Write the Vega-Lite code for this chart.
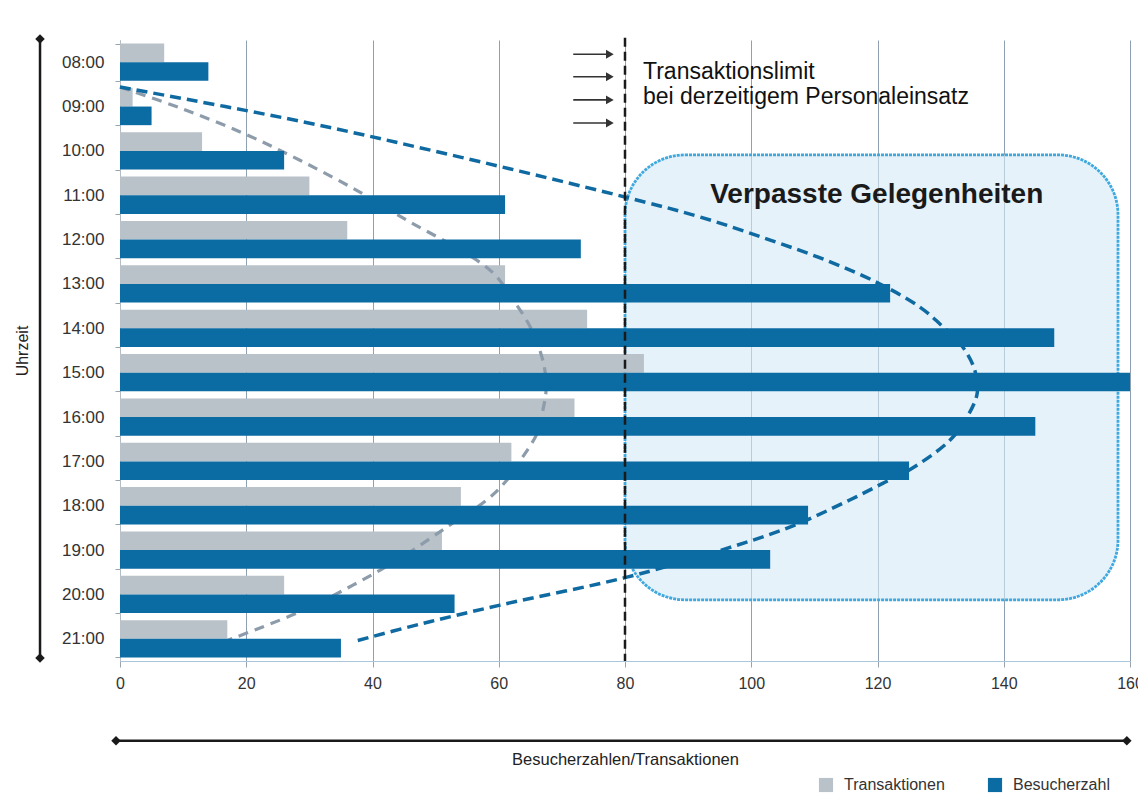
{
  "$schema": "https://vega.github.io/schema/vega-lite/v6.json",
  "width": 1010,
  "height": 621,
  "autosize": {"type": "none"},
  "padding": {"left": 120, "top": 40, "right": 8, "bottom": 140},
  "background": "white",
  "config": {
    "view": {"stroke": null},
    "font": "Liberation Sans",
    "axis": {"labelFont": "Liberation Sans", "titleFont": "Liberation Sans", "labelColor": "#333333", "titleColor": "#222222", "titleFontWeight": "normal"},
    "legend": {"labelFont": "Liberation Sans"}
  },
  "datasets": {
    "bars": [
      {"hour": "08:00", "series": "Transaktionen", "value": 7},
      {"hour": "08:00", "series": "Besucherzahl", "value": 14},
      {"hour": "09:00", "series": "Transaktionen", "value": 2},
      {"hour": "09:00", "series": "Besucherzahl", "value": 5},
      {"hour": "10:00", "series": "Transaktionen", "value": 13},
      {"hour": "10:00", "series": "Besucherzahl", "value": 26},
      {"hour": "11:00", "series": "Transaktionen", "value": 30},
      {"hour": "11:00", "series": "Besucherzahl", "value": 61},
      {"hour": "12:00", "series": "Transaktionen", "value": 36},
      {"hour": "12:00", "series": "Besucherzahl", "value": 73},
      {"hour": "13:00", "series": "Transaktionen", "value": 61},
      {"hour": "13:00", "series": "Besucherzahl", "value": 122},
      {"hour": "14:00", "series": "Transaktionen", "value": 74},
      {"hour": "14:00", "series": "Besucherzahl", "value": 148},
      {"hour": "15:00", "series": "Transaktionen", "value": 83},
      {"hour": "15:00", "series": "Besucherzahl", "value": 160},
      {"hour": "16:00", "series": "Transaktionen", "value": 72},
      {"hour": "16:00", "series": "Besucherzahl", "value": 145},
      {"hour": "17:00", "series": "Transaktionen", "value": 62},
      {"hour": "17:00", "series": "Besucherzahl", "value": 125},
      {"hour": "18:00", "series": "Transaktionen", "value": 54},
      {"hour": "18:00", "series": "Besucherzahl", "value": 109},
      {"hour": "19:00", "series": "Transaktionen", "value": 51},
      {"hour": "19:00", "series": "Besucherzahl", "value": 103},
      {"hour": "20:00", "series": "Transaktionen", "value": 26},
      {"hour": "20:00", "series": "Besucherzahl", "value": 53},
      {"hour": "21:00", "series": "Transaktionen", "value": 17},
      {"hour": "21:00", "series": "Besucherzahl", "value": 35}
    ],
    "greyCurve": [
      {"i": 0, "x": 0, "y": 8.56},
      {"i": 1, "x": 9.5, "y": 9.03},
      {"i": 2, "x": 19.5, "y": 9.6},
      {"i": 3, "x": 28.5, "y": 10.21},
      {"i": 4, "x": 38.0, "y": 10.93},
      {"i": 5, "x": 45.9, "y": 11.6},
      {"i": 6, "x": 53.9, "y": 12.23},
      {"i": 7, "x": 59.1, "y": 12.75},
      {"i": 8, "x": 62.3, "y": 13.36},
      {"i": 9, "x": 65.0, "y": 13.97},
      {"i": 10, "x": 66.5, "y": 14.49},
      {"i": 11, "x": 67.3, "y": 14.94},
      {"i": 12, "x": 67.5, "y": 15.39},
      {"i": 13, "x": 67.0, "y": 15.84},
      {"i": 14, "x": 66.1, "y": 16.36},
      {"i": 15, "x": 63.8, "y": 16.9},
      {"i": 16, "x": 61.3, "y": 17.42},
      {"i": 17, "x": 58.1, "y": 17.87},
      {"i": 18, "x": 51.8, "y": 18.48},
      {"i": 19, "x": 44.4, "y": 19.18},
      {"i": 20, "x": 36.9, "y": 19.79},
      {"i": 21, "x": 28.5, "y": 20.39},
      {"i": 22, "x": 17.1, "y": 21.03}
    ],
    "blueCurve": [
      {"i": 0, "x": 0, "y": 8.56},
      {"i": 1, "x": 28.5, "y": 9.33},
      {"i": 2, "x": 53.9, "y": 10.14},
      {"i": 3, "x": 80.0, "y": 11.04},
      {"i": 4, "x": 91.9, "y": 11.49},
      {"i": 5, "x": 103.0, "y": 12.01},
      {"i": 6, "x": 112.5, "y": 12.5},
      {"i": 7, "x": 120.4, "y": 13.0},
      {"i": 8, "x": 126.7, "y": 13.52},
      {"i": 9, "x": 130.4, "y": 13.97},
      {"i": 10, "x": 133.5, "y": 14.42},
      {"i": 11, "x": 135.4, "y": 14.94},
      {"i": 12, "x": 135.8, "y": 15.46},
      {"i": 13, "x": 134.2, "y": 16.0},
      {"i": 14, "x": 131.5, "y": 16.52},
      {"i": 15, "x": 125.1, "y": 17.19},
      {"i": 16, "x": 120.9, "y": 17.49},
      {"i": 17, "x": 115.6, "y": 17.87},
      {"i": 18, "x": 106.1, "y": 18.48},
      {"i": 19, "x": 93.9, "y": 19.06},
      {"i": 20, "x": 80.3, "y": 19.61},
      {"i": 21, "x": 60.2, "y": 20.24},
      {"i": 22, "x": 47.5, "y": 20.67},
      {"i": 23, "x": 36.8, "y": 21.07}
    ],
    "box": [{"x1": 80, "x2": 158.1, "y1": 10.09, "y2": 20.12}],
    "arrows": [
      {"x1": 71.8, "x2": 77.0, "xh": 77.6, "y": 7.82},
      {"x1": 71.8, "x2": 77.0, "xh": 77.6, "y": 8.33},
      {"x1": 71.8, "x2": 77.0, "xh": 77.6, "y": 8.85},
      {"x1": 71.8, "x2": 77.0, "xh": 77.6, "y": 9.37}
    ],
    "limit": [{"x": 80, "y1": 7.45, "y2": 21.5}],
    "notes": [
      {"x": 82.85, "y": 8.22, "text": "Transaktionslimit"},
      {"x": 82.85, "y": 8.79, "text": "bei derzeitigem Personaleinsatz"}
    ],
    "headline": [{"x": 93.5, "y": 10.99, "text": "Verpasste Gelegenheiten"}],
    "vline": [{"x": -12.67, "y1": 7.48, "y2": 21.43}],
    "hline": [{"x1": -0.63, "x2": 159.5, "y": 23.3}],
    "ends": [
      {"x": -12.67, "y": 7.48},
      {"x": -12.67, "y": 21.43},
      {"x": -0.63, "y": 23.3},
      {"x": 159.5, "y": 23.3}
    ]
  },
  "resolve": {"scale": {"y": "independent"}, "axis": {"y": "independent"}},
  "layer": [
    {
      "data": {"name": "box"},
      "mark": {"type": "rect", "cornerRadius": 60, "fill": "#d3e9f7", "fillOpacity": 0.6, "stroke": "#3ea8df", "strokeWidth": 2.8, "strokeDash": [3, 1]},
      "encoding": {
        "x": {
          "field": "x1", "type": "quantitative",
          "scale": {"domain": [0, 160], "nice": false},
          "axis": {"values": [0, 20, 40, 60, 80, 100, 120, 140, 160], "grid": true, "gridColor": "#8fa1b0", "gridOpacity": 1, "tickSize": 6, "tickColor": "#9aa3ab", "domainColor": "#a9c6da", "labelPadding": 8, "labelFontSize": 16, "labelFlush": false, "title": "Besucherzahlen/Transaktionen", "titleFontSize": 16.5, "titlePadding": 60}
        },
        "x2": {"field": "x2"},
        "y": {"field": "y1", "type": "quantitative", "scale": {"domain": [7.5, 21.5], "reverse": true, "nice": false, "zero": false}, "axis": null},
        "y2": {"field": "y2"}
      }
    },
    {
      "data": {"name": "bars"},
      "transform": [{"filter": "datum.series === 'Transaktionen'"}],
      "mark": {"type": "bar"},
      "encoding": {
        "y": {
          "field": "hour", "type": "ordinal",
          "scale": {"paddingInner": 0.16, "paddingOuter": 0.08},
          "axis": {"title": "Uhrzeit", "tickBand": "extent", "tickSize": 5, "tickColor": "#9aa3ab", "domainColor": "#b4bcc4", "labelPadding": 11, "labelFontSize": 17, "titleFontSize": 16, "titlePadding": 31}
        },
        "yOffset": {"field": "series", "scale": {"domain": ["Transaktionen", "Besucherzahl"]}},
        "x": {"field": "value", "type": "quantitative", "scale": {"domain": [0, 160], "nice": false}},
        "color": {
          "field": "series", "type": "nominal",
          "scale": {"domain": ["Transaktionen", "Besucherzahl"], "range": ["#b9c1c9", "#0b6ba3"]},
          "legend": {"orient": "none", "legendX": 698, "legendY": 737, "direction": "horizontal", "title": null, "symbolType": "square", "symbolSize": 200, "symbolStrokeWidth": 0, "labelFontSize": 16, "labelColor": "#333333", "labelOffset": 10, "columnPadding": 42}
        }
      }
    },
    {
      "data": {"name": "greyCurve"},
      "mark": {"type": "line", "interpolate": "catmull-rom", "color": "#8d9cab", "strokeWidth": 3.2, "strokeDash": [10, 7]},
      "encoding": {
        "x": {"field": "x", "type": "quantitative", "scale": {"domain": [0, 160], "nice": false}},
        "y": {"field": "y", "type": "quantitative", "scale": {"domain": [7.5, 21.5], "reverse": true, "nice": false, "zero": false}, "axis": null},
        "order": {"field": "i"}
      }
    },
    {
      "data": {"name": "blueCurve"},
      "mark": {"type": "line", "interpolate": "catmull-rom", "color": "#0e6aa1", "strokeWidth": 3.5, "strokeDash": [11, 6]},
      "encoding": {
        "x": {"field": "x", "type": "quantitative", "scale": {"domain": [0, 160], "nice": false}},
        "y": {"field": "y", "type": "quantitative", "scale": {"domain": [7.5, 21.5], "reverse": true, "nice": false, "zero": false}, "axis": null},
        "order": {"field": "i"}
      }
    },
    {
      "data": {"name": "bars"},
      "transform": [{"filter": "datum.series === 'Besucherzahl'"}],
      "mark": {"type": "bar"},
      "encoding": {
        "y": {"field": "hour", "type": "ordinal", "scale": {"paddingInner": 0.16, "paddingOuter": 0.08}, "axis": null},
        "yOffset": {"field": "series", "scale": {"domain": ["Transaktionen", "Besucherzahl"]}},
        "x": {"field": "value", "type": "quantitative", "scale": {"domain": [0, 160], "nice": false}},
        "color": {"field": "series", "type": "nominal", "scale": {"domain": ["Transaktionen", "Besucherzahl"], "range": ["#b9c1c9", "#0b6ba3"]}}
      }
    },
    {
      "layer": [
        {
          "data": {"name": "limit"},
          "mark": {"type": "rule", "color": "#1a1a1a", "strokeWidth": 2.5, "strokeDash": [9, 5]},
          "encoding": {
            "x": {"field": "x", "type": "quantitative", "scale": {"domain": [0, 160], "nice": false}},
            "y": {"field": "y1", "type": "quantitative", "scale": {"domain": [7.5, 21.5], "reverse": true, "nice": false, "zero": false}, "axis": null},
            "y2": {"field": "y2"}
          }
        },
        {
          "data": {"name": "arrows"},
          "mark": {"type": "rule", "color": "#333333", "strokeWidth": 1.6},
          "encoding": {
            "x": {"field": "x1", "type": "quantitative", "scale": {"domain": [0, 160], "nice": false}},
            "x2": {"field": "x2"},
            "y": {"field": "y", "type": "quantitative", "scale": {"domain": [7.5, 21.5], "reverse": true, "nice": false, "zero": false}, "axis": null}
          }
        },
        {
          "data": {"name": "arrows"},
          "mark": {"type": "point", "shape": "triangle-right", "filled": true, "color": "#333333", "size": 80, "opacity": 1},
          "encoding": {
            "x": {"field": "xh", "type": "quantitative", "scale": {"domain": [0, 160], "nice": false}},
            "y": {"field": "y", "type": "quantitative", "scale": {"domain": [7.5, 21.5], "reverse": true, "nice": false, "zero": false}, "axis": null}
          }
        },
        {
          "data": {"name": "notes"},
          "mark": {"type": "text", "align": "left", "baseline": "middle", "fontSize": 23, "color": "#111111", "font": "Liberation Sans"},
          "encoding": {
            "x": {"field": "x", "type": "quantitative", "scale": {"domain": [0, 160], "nice": false}},
            "y": {"field": "y", "type": "quantitative", "scale": {"domain": [7.5, 21.5], "reverse": true, "nice": false, "zero": false}, "axis": null},
            "text": {"field": "text"}
          }
        },
        {
          "data": {"name": "headline"},
          "mark": {"type": "text", "align": "left", "baseline": "middle", "fontSize": 28, "fontWeight": "bold", "color": "#1a1a1a", "font": "Liberation Sans"},
          "encoding": {
            "x": {"field": "x", "type": "quantitative", "scale": {"domain": [0, 160], "nice": false}},
            "y": {"field": "y", "type": "quantitative", "scale": {"domain": [7.5, 21.5], "reverse": true, "nice": false, "zero": false}, "axis": null},
            "text": {"field": "text"}
          }
        },
        {
          "data": {"name": "vline"},
          "mark": {"type": "rule", "color": "#1a1a1a", "strokeWidth": 2.5},
          "encoding": {
            "x": {"field": "x", "type": "quantitative", "scale": {"domain": [0, 160], "nice": false}},
            "y": {"field": "y1", "type": "quantitative", "scale": {"domain": [7.5, 21.5], "reverse": true, "nice": false, "zero": false}, "axis": null},
            "y2": {"field": "y2"}
          }
        },
        {
          "data": {"name": "hline"},
          "mark": {"type": "rule", "color": "#1a1a1a", "strokeWidth": 2.5},
          "encoding": {
            "x": {"field": "x1", "type": "quantitative", "scale": {"domain": [0, 160], "nice": false}},
            "x2": {"field": "x2"},
            "y": {"field": "y", "type": "quantitative", "scale": {"domain": [7.5, 21.5], "reverse": true, "nice": false, "zero": false}, "axis": null}
          }
        },
        {
          "data": {"name": "ends"},
          "mark": {"type": "point", "shape": "diamond", "filled": true, "color": "#1a1a1a", "size": 90, "opacity": 1},
          "encoding": {
            "x": {"field": "x", "type": "quantitative", "scale": {"domain": [0, 160], "nice": false}},
            "y": {"field": "y", "type": "quantitative", "scale": {"domain": [7.5, 21.5], "reverse": true, "nice": false, "zero": false}, "axis": null}
          }
        }
      ]
    }
  ]
}
